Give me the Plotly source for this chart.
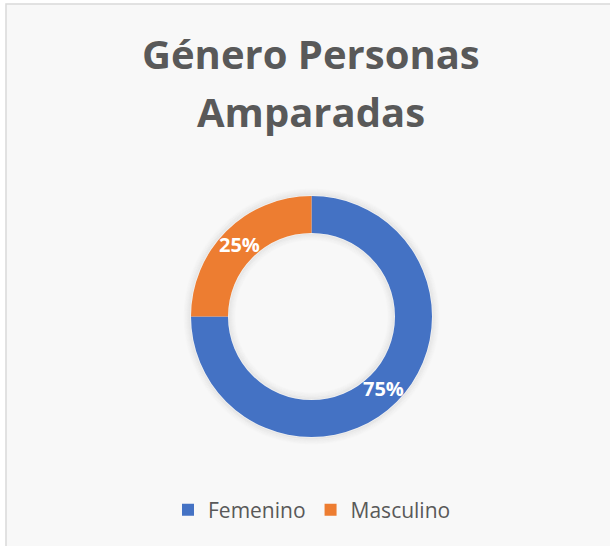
import math
import plotly.graph_objects as go

categories = ["Femenino", "Masculino"]
values = [75, 25]
colors = ["#4472C4", "#ED7D31"]
title_lines = ["Género Personas", "Amparadas"]

W, H = 610, 546
CX, CY, R_OUT, R_IN = 311.5, 316.5, 120.5, 83.5

fig = go.Figure()
fig.add_trace(go.Pie(
    labels=categories,
    values=values,
    hole=R_IN / R_OUT,
    sort=False,
    direction="clockwise",
    rotation=0,
    marker=dict(colors=colors, line=dict(width=0)),
    textinfo="none",
    hoverinfo="label+percent",
    domain=dict(x=[(CX - R_OUT) / W, (CX + R_OUT) / W],
                y=[(H - CY - R_OUT) / H, (H - CY + R_OUT) / H]),
    showlegend=True,
))

# data labels at the middle of each ring segment
total = sum(values)
cum = 0
r_mid = (R_OUT + R_IN) / 2
for v in values:
    theta = 2 * math.pi * (cum + v / 2) / total
    cum += v
    px = CX + r_mid * math.sin(theta)
    py = CY - r_mid * math.cos(theta)
    fig.add_annotation(text=f"{round(100 * v / total)}%", x=px / W, y=(H - py) / H,
                       xref="paper", yref="paper", showarrow=False,
                       xanchor="center", yanchor="middle",
                       font=dict(family="Open Sans", size=20, color="white", weight="bold"))

# chart area frame with light fill
fig.add_shape(type="rect", xref="paper", yref="paper", x0=6 / W, x1=1.02, y0=-0.02, y1=(H - 4) / H,
              line=dict(color="#D9D9D9", width=1.5), fillcolor="#F8F8F8", layer="below")

# soft shadow halo around the ring
for i in range(1, 8):
    a = 0.05 * (8 - i) / 7
    for r in (R_OUT + i, R_IN - i):
        fig.add_shape(type="circle", xref="paper", yref="paper",
                      x0=(CX - r) / W, x1=(CX + r) / W,
                      y0=(H - CY - r) / H, y1=(H - CY + r) / H,
                      line=dict(color=f"rgba(0,0,0,{a:.3f})", width=1.5),
                      fillcolor="rgba(0,0,0,0)", layer="below")

fig.add_annotation(text=title_lines[0], x=311 / W, y=(H - 54) / H, xref="paper", yref="paper",
                   showarrow=False, xanchor="center", yanchor="middle",
                   font=dict(family="Open Sans", size=40, color="#595959", weight="bold"))
fig.add_annotation(text=title_lines[1], x=311 / W, y=(H - 111) / H, xref="paper", yref="paper",
                   showarrow=False, xanchor="center", yanchor="middle",
                   font=dict(family="Open Sans", size=40, color="#595959", weight="bold"))

fig.update_layout(
    width=W, height=H,
    margin=dict(l=0, r=0, t=0, b=0),
    paper_bgcolor="white",
    plot_bgcolor="white",
    legend=dict(orientation="h", x=312 / W, xanchor="center", y=(H - 510) / H, yanchor="middle",
                font=dict(family="Open Sans", size=21, color="#595959"), bgcolor="rgba(0,0,0,0)"),
)

fig.write_html("out.html", config={"displayModeBar": False},
               post_script="document.body.style.margin='0';")
